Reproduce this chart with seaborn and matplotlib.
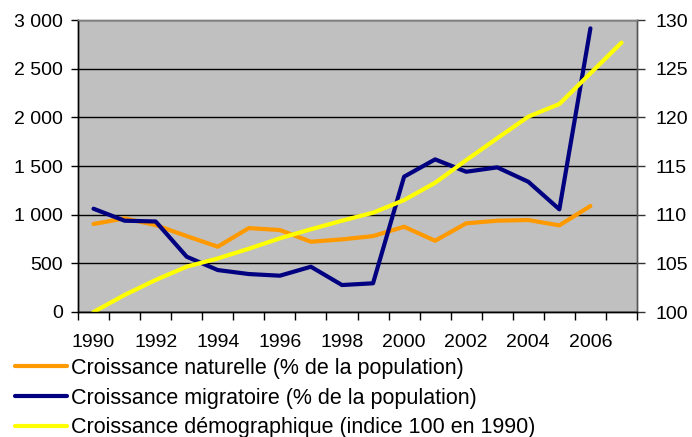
import numpy as np
import pandas as pd
import matplotlib
matplotlib.use("Agg")
import matplotlib.pyplot as plt
import seaborn as sns
from matplotlib.ticker import FuncFormatter, MultipleLocator, FixedLocator

sns.set_theme(style="white")
plt.rcParams['font.family'] = ['Liberation Sans', 'DejaVu Sans']
plt.rcParams['text.color'] = 'black'
plt.rcParams['xtick.color'] = 'black'
plt.rcParams['ytick.color'] = 'black'

years = list(range(1990, 2007))
years_demo = list(range(1990, 2008))
naturelle = [904, 962, 893, 780, 671, 862, 842, 722, 746, 780, 876, 732, 911, 938, 945, 890, 1089]
migratoire = [1061, 938, 930, 568, 431, 390, 373, 465, 277, 295, 1390, 1568, 1441, 1486, 1338, 1055, 2914]
demographique = [100.0, 101.75, 103.29, 104.66, 105.5, 106.5, 107.57, 108.5, 109.38, 110.2,
                 111.5, 113.28, 115.6, 117.85, 120.07, 121.37, 124.52, 127.67]

lab_nat = "Croissance naturelle (% de la population)"
lab_mig = "Croissance migratoire (% de la population)"
lab_dem = "Croissance démographique (indice 100 en 1990)"

df_left = pd.DataFrame({
    "annee": years + years,
    "valeur": naturelle + migratoire,
    "serie": [lab_nat] * len(years) + [lab_mig] * len(years),
})
df_right = pd.DataFrame({"annee": years_demo, "valeur": demographique, "serie": lab_dem})

fig = plt.figure(figsize=(6.92, 4.37), dpi=100)
ax = fig.add_axes([78 / 692, 1 - 312 / 437, (637 - 78) / 692, (312 - 20) / 437])
ax2 = ax.twinx()

sns.lineplot(data=df_left, x="annee", y="valeur", hue="serie",
             palette={lab_nat: "#FF9900", lab_mig: "#000080"},
             linewidth=3, ax=ax, legend=False)
sns.lineplot(data=df_right, x="annee", y="valeur", color="#FFFF00",
             linewidth=3, ax=ax2, legend=False)

ax.set_facecolor("#C0C0C0")
ax2.patch.set_visible(False)
ax.set_xlim(1989.5, 2007.5)
ax.set_ylim(0, 3000)
ax2.set_ylim(100, 130)
ax.yaxis.set_major_locator(MultipleLocator(500))
ax2.yaxis.set_major_locator(MultipleLocator(5))
ax.yaxis.set_major_formatter(FuncFormatter(lambda v, p: f"{int(v):,}".replace(",", " ")))

ax.set_xticks(range(1990, 2007, 2))
ax.xaxis.set_minor_locator(FixedLocator(np.arange(1989.5, 2008, 1)))
ax.tick_params(axis="x", which="major", length=0, labelsize=14, pad=16, labelcolor="black")
ax.tick_params(axis="x", which="minor", length=6, width=1, color="black", direction="out", bottom=True)
ax.tick_params(axis="y", length=5, width=1, color="black", direction="out", left=True,
               labelsize=14, pad=6, labelcolor="black")
ax2.tick_params(axis="y", length=6, width=1, color="#333333", direction="out", right=True,
                labelsize=14, pad=7, labelcolor="black")

ax.grid(axis="y", color="black", linewidth=1)
ax.grid(axis="x", visible=False)
for a in (ax, ax2):
    a.set_xlabel("")
    a.set_ylabel("")
    a.spines["top"].set_color("#808080")
    a.spines["left"].set_color("black")
    a.spines["bottom"].set_color("black")
    a.spines["right"].set_color("#555555")
    for s in a.spines.values():
        s.set_linewidth(1)

handles = [plt.Line2D([], [], color="#FF9900", lw=3),
           plt.Line2D([], [], color="#000080", lw=3),
           plt.Line2D([], [], color="#FFFF00", lw=3)]
leg = fig.legend(handles, [lab_nat, lab_mig, lab_dem], loc="upper left",
                 bbox_to_anchor=(15 / 692, 1 - 358 / 437), frameon=False, fontsize=15.5,
                 handlelength=2.4, handletextpad=0.2, labelspacing=0.4, borderpad=0, borderaxespad=0)
for t in leg.get_texts():
    t.set_color("black")

fig.savefig("out.png", dpi=100)
